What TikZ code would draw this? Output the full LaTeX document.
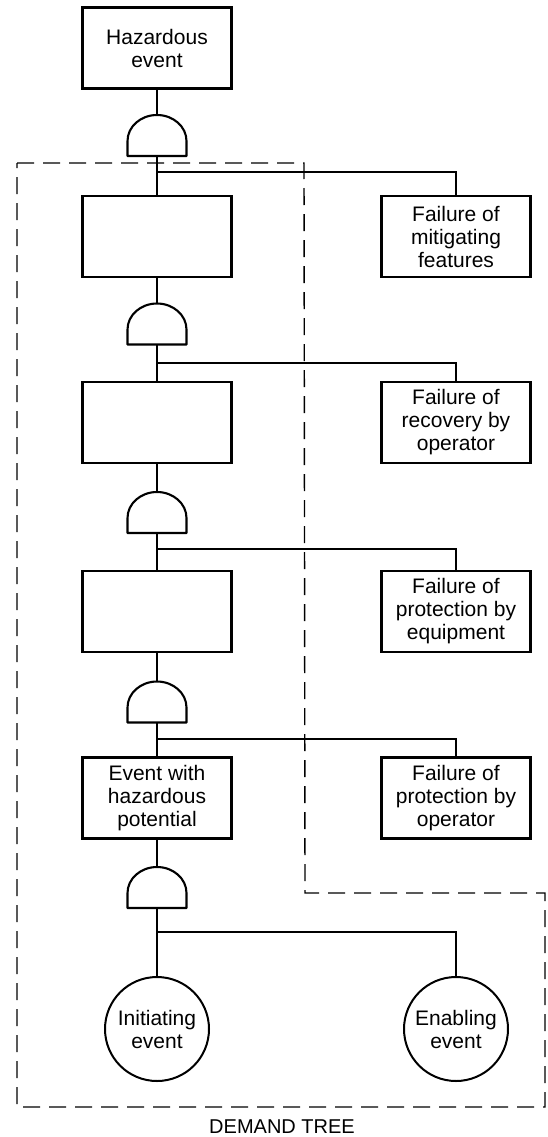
\documentclass[tikz,border=0pt]{standalone}
\usepackage{fontspec}
\setmainfont{Liberation Sans}
\begin{document}
\begin{tikzpicture}[x=1pt,y=-1pt,
  txt/.style={font=\fontsize{21}{23}\selectfont, align=center},
  evbox/.style={txt, draw, line width=2.1pt, rectangle, minimum width=149pt,
    minimum height=81pt, inner sep=0pt},
  evcirc/.style={txt, draw, line width=2pt, circle, minimum size=104pt, inner sep=0pt},
  gatenode/.style={rectangle, minimum width=59pt, minimum height=41pt,
    inner sep=0pt, outer sep=0pt},
  conn/.style={line width=2.1pt},
  frame/.style={line width=1.4pt, dash pattern=on 17pt off 9pt}]
\useasboundingbox (0,0) rectangle (547,1137);

% main column
\node[evbox] (top) at (157,48) {Hazardous\\event};
\node[gatenode] (g1) at (157,135.5) {};
\node[evbox] (bA) at (157,236.5) {};
\node[gatenode] (g2) at (157,324) {};
\node[evbox] (bB) at (157,422.5) {};
\node[gatenode] (g3) at (157,512.5) {};
\node[evbox] (bC) at (157,611.5) {};
\node[gatenode] (g4) at (157,702) {};
\node[evbox] (bD) at (157,798) {Event with\\hazardous\\potential};
\node[gatenode] (g5) at (157,887.5) {};
\node[evcirc] (init) at (157,1029) {Initiating\\event};

% side inputs
\node[evbox] (r1) at (456,236.5) {Failure of\\mitigating\\features};
\node[evbox] (r2) at (456,422.5) {Failure of\\recovery by\\operator};
\node[evbox] (r3) at (456,611.5) {Failure of\\protection by\\equipment};
\node[evbox] (r4) at (456,798) {Failure of\\protection by\\operator};
\node[evcirc] (enab) at (456,1029) {Enabling\\event};

% AND gate outlines
\foreach \g in {g1,g2,g3,g4,g5}
  \draw[conn, line join=round] (\g.south west) -- ++(0pt,15pt)
    arc[start angle=180, end angle=0, x radius=29.5pt, y radius=26pt]
    -- (\g.south east) -- cycle;

% branch points
\coordinate (j1) at (157,172);
\coordinate (j2) at (157,363);
\coordinate (j3) at (157,549);
\coordinate (j4) at (157,739);
\coordinate (j5) at (157,932);

% connectors
\draw[conn] (top) -- (g1);
\draw[conn] (g1) -- (bA);
\draw[conn] (j1) -| (r1);
\draw[conn] (bA) -- (g2);
\draw[conn] (g2) -- (bB);
\draw[conn] (j2) -| (r2);
\draw[conn] (bB) -- (g3);
\draw[conn] (g3) -- (bC);
\draw[conn] (j3) -| (r3);
\draw[conn] (bC) -- (g4);
\draw[conn] (g4) -- (bD);
\draw[conn] (j4) -| (r4);
\draw[conn] (bD) -- (g5);
\draw[conn] (g5) -- (init);
\draw[conn] (j5) -| (enab);

% demand tree boundary
\draw[frame] (17,163) -- (304,163) -- (305,893) -- (545,893) -- (545,1107)
  -- (17,1107) -- cycle;
\node[font=\fontsize{20}{22}\selectfont, anchor=base] (lbl) at (282,1133) {DEMAND TREE};
\end{tikzpicture}
\end{document}
